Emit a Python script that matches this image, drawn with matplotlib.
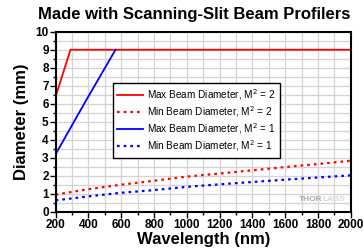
import numpy as np
import matplotlib
matplotlib.use('Agg')
import matplotlib.pyplot as plt
from matplotlib.ticker import MultipleLocator

plt.rcParams['font.family'] = ['Liberation Sans', 'DejaVu Sans']

# max beam diameter, M^2 = 2
wl_max2 = [200, 290, 2000]
d_max2 = [6.4, 9.0, 9.0]
# max beam diameter, M^2 = 1
wl_max1 = [200, 380, 565]
d_max1 = [3.2, 6.1, 9.0]
# min beam diameters
wl_min = [200, 400, 600, 800, 1000, 1200, 1400, 1600, 1800, 2000]
d_min2 = [0.95, 1.25, 1.5, 1.72, 1.95, 2.12, 2.3, 2.48, 2.65, 2.83]
d_min1 = [0.63, 0.85, 1.05, 1.2, 1.38, 1.52, 1.65, 1.78, 1.9, 2.02]

fig = plt.figure(figsize=(3.63, 2.52), dpi=100)
ax = fig.add_axes([0.1534, 0.16, 0.813, 0.714])

ax.plot(wl_max2, d_max2, c='#ff0000', lw=1.3, label='Max Beam Diameter, M$^2$ = 2')
ax.plot(wl_min, d_min2, c='#ff0000', lw=1.6, ls=(0, (1.2, 1.8)), label='Min Beam Diameter, M$^2$ = 2')
ax.plot(wl_max1, d_max1, c='#0000ff', lw=1.3, label='Max Beam Diameter, M$^2$ = 1')
ax.plot(wl_min, d_min1, c='#0000ff', lw=1.6, ls=(0, (1.2, 1.8)), label='Min Beam Diameter, M$^2$ = 1')

ax.set_xlim(200, 2000)
ax.set_ylim(0, 10)
ax.xaxis.set_major_locator(MultipleLocator(200))
ax.xaxis.set_minor_locator(MultipleLocator(100))
ax.yaxis.set_major_locator(MultipleLocator(1))
ax.yaxis.set_minor_locator(MultipleLocator(0.5))
ax.grid(which='both', color='#d4d4d4', lw=0.9)
ax.set_axisbelow(True)
ax.tick_params(which='major', direction='out', length=4, width=1, labelsize=8.5, pad=1)
ax.tick_params(which='minor', direction='out', length=2.5, width=1)
for lbl in ax.get_xticklabels() + ax.get_yticklabels():
    lbl.set_fontweight('bold')
for sp in ax.spines.values():
    sp.set_linewidth(1.5)

ax.set_xlabel('Wavelength (nm)', fontsize=12, fontweight='bold', labelpad=1)
ax.set_ylabel('Diameter (mm)', fontsize=12, fontweight='bold', labelpad=5)
ax.set_title('Made with Scanning-Slit Beam Profilers', fontsize=12, fontweight='bold',
             pad=9, x=0.468)

leg = ax.legend(loc='upper left', bbox_to_anchor=(0.194, 0.715), fontsize=7.2, frameon=True,
                fancybox=False, edgecolor='black', framealpha=1, handlelength=2.6,
                borderpad=0.45, labelspacing=0.22, handletextpad=0.4, borderaxespad=0)
leg.get_frame().set_linewidth(1)

ax.text(0.903, 0.07, 'THOR', transform=ax.transAxes, fontsize=6, fontweight='bold',
        color='#a8a8a8', ha='right', va='center')
ax.text(0.903, 0.07, 'LABS', transform=ax.transAxes, fontsize=6, fontweight='bold',
        color='#d8d8d8', ha='left', va='center')

fig.savefig('out.png', dpi=100)
